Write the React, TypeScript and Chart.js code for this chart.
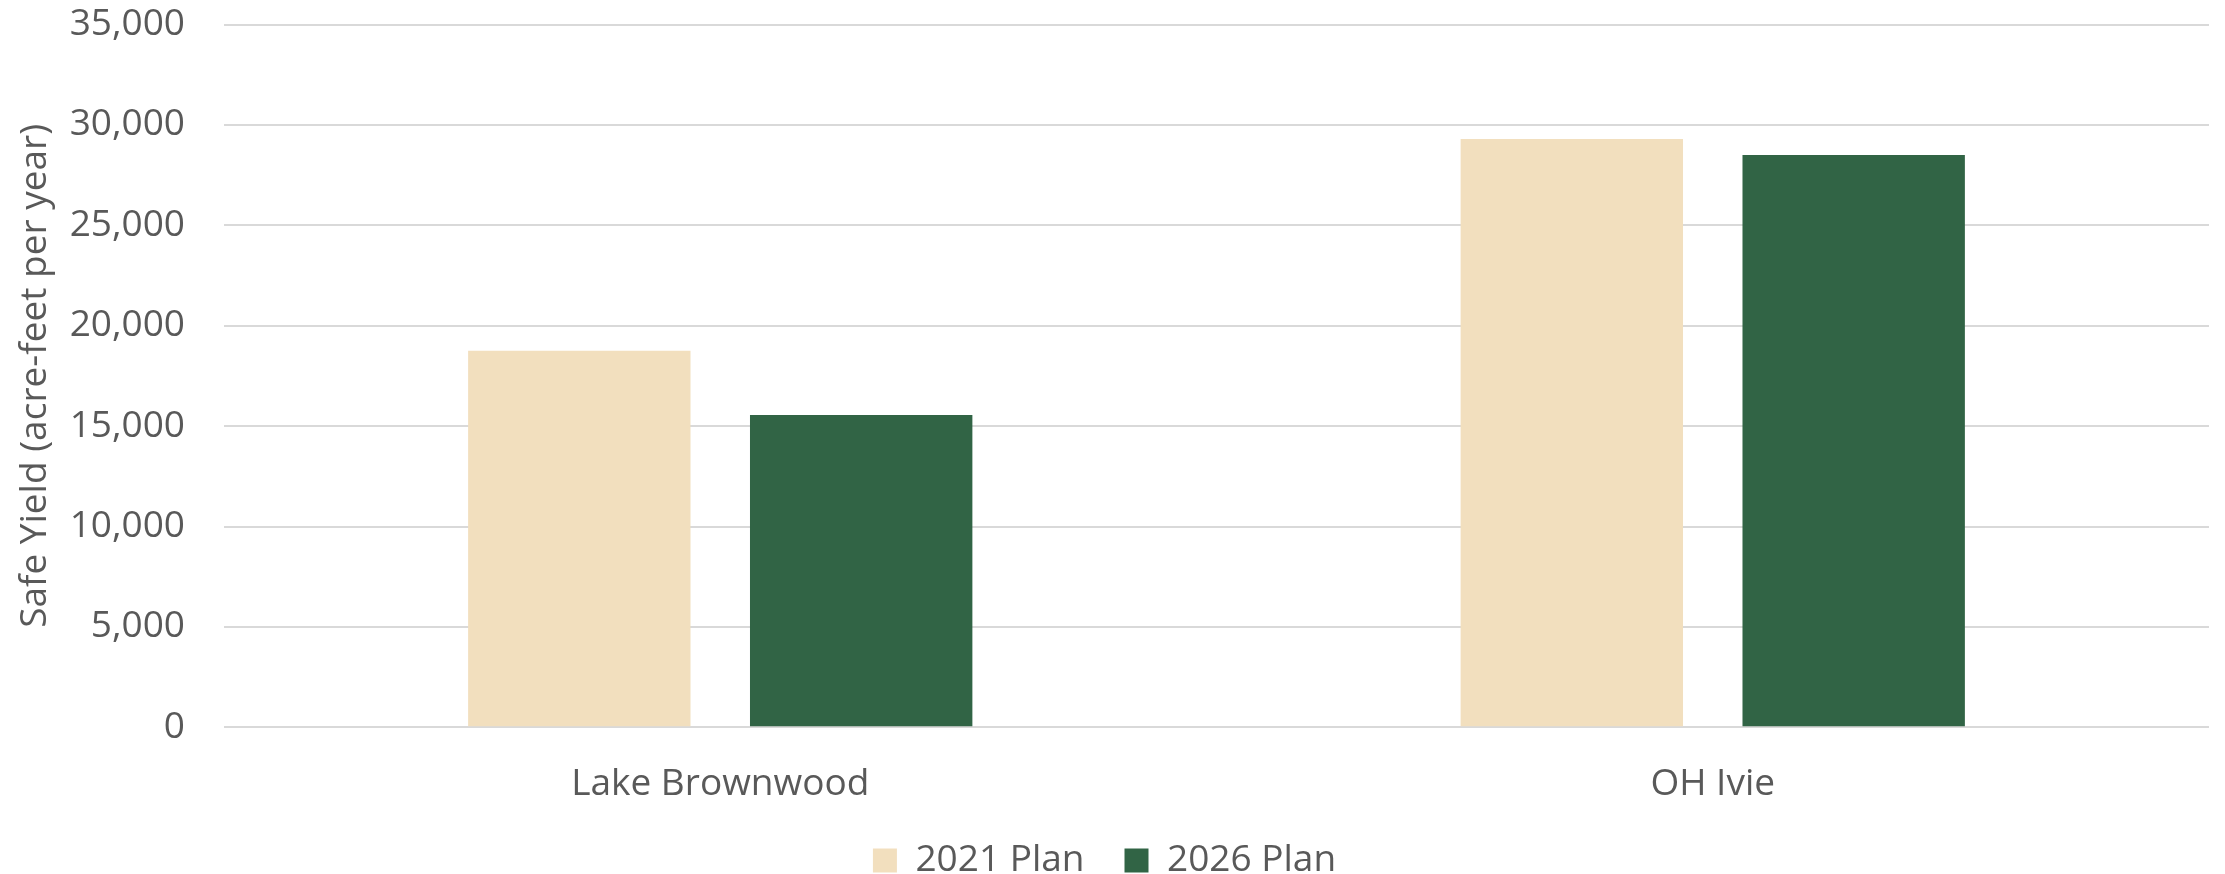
import React, { useEffect, useRef } from "react";
import { Chart, registerables } from "chart.js";

Chart.register(...registerables);

const categories = ["Lake Brownwood", "OH Ivie"];
const seriesNames = ["2021 Plan", "2026 Plan"];
const plan2021 = [18750, 29300];
const plan2026 = [15550, 28500];
const yTicksMax = 35000;
const yTickStep = 5000;
const yTitle = "Safe Yield (acre-feet per year)";

const COLORS = ["#F2DFBE", "#316445"];
const TEXT = "#595959";
const FONT = "'Open Sans', sans-serif";

export default function App() {
  const ref = useRef<HTMLCanvasElement | null>(null);

  useEffect(() => {
    document.body.style.margin = "0";
    document.body.style.overflow = "hidden";
    if (!ref.current) return;
    const chart = new Chart(ref.current, {
      type: "bar",
      data: {
        labels: categories,
        datasets: [
          { label: seriesNames[0], data: plan2021, backgroundColor: COLORS[0], borderWidth: 0 },
          { label: seriesNames[1], data: plan2026, backgroundColor: COLORS[1], borderWidth: 0 },
        ],
      },
      options: {
        animation: false,
        responsive: true,
        maintainAspectRatio: false,
        devicePixelRatio: 1,
        layout: { padding: { top: 24.5, right: 16, left: 0, bottom: -15 } },
        datasets: {
          bar: { categoryPercentage: 0.568, barPercentage: 0.789 },
        },
        plugins: {
          tooltip: { enabled: false },
          legend: {
            position: "bottom",
            labels: {
              boxWidth: 24,
              boxHeight: 24,
              padding: 40,
              color: TEXT,
              font: { family: FONT, size: 37 },
            },
          },
        },
        scales: {
          x: {
            grid: { display: false, drawTicks: false },
            border: { display: false },
            ticks: { color: TEXT, font: { family: FONT, size: 37 }, padding: 34.5 },
            afterFit: (s: any) => {
              s.height = 74.7;
            },
          },
          y: {
            min: 0,
            max: yTicksMax,
            grid: {
              color: "#D9D9D9",
              lineWidth: 2,
              drawTicks: true,
              tickLength: 37,
              tickColor: "rgba(0,0,0,0)",
            },
            border: { display: false },
            ticks: {
              stepSize: yTickStep,
              color: TEXT,
              padding: 2,
              font: { family: FONT, size: 37 },
              callback: (v: any) => Number(v).toLocaleString("en-US"),
            },
            title: {
              display: true,
              text: yTitle,
              color: TEXT,
              font: { family: FONT, size: 37 },
              padding: { top: 13, bottom: 4 },
            },
            afterFit: (s: any) => {
              s.width = 224;
            },
          },
        },
      },
    });
    return () => chart.destroy();
  }, []);

  return (
    <div style={{ width: 2225, height: 874, position: "relative" }}>
      <canvas ref={ref} />
    </div>
  );
}
